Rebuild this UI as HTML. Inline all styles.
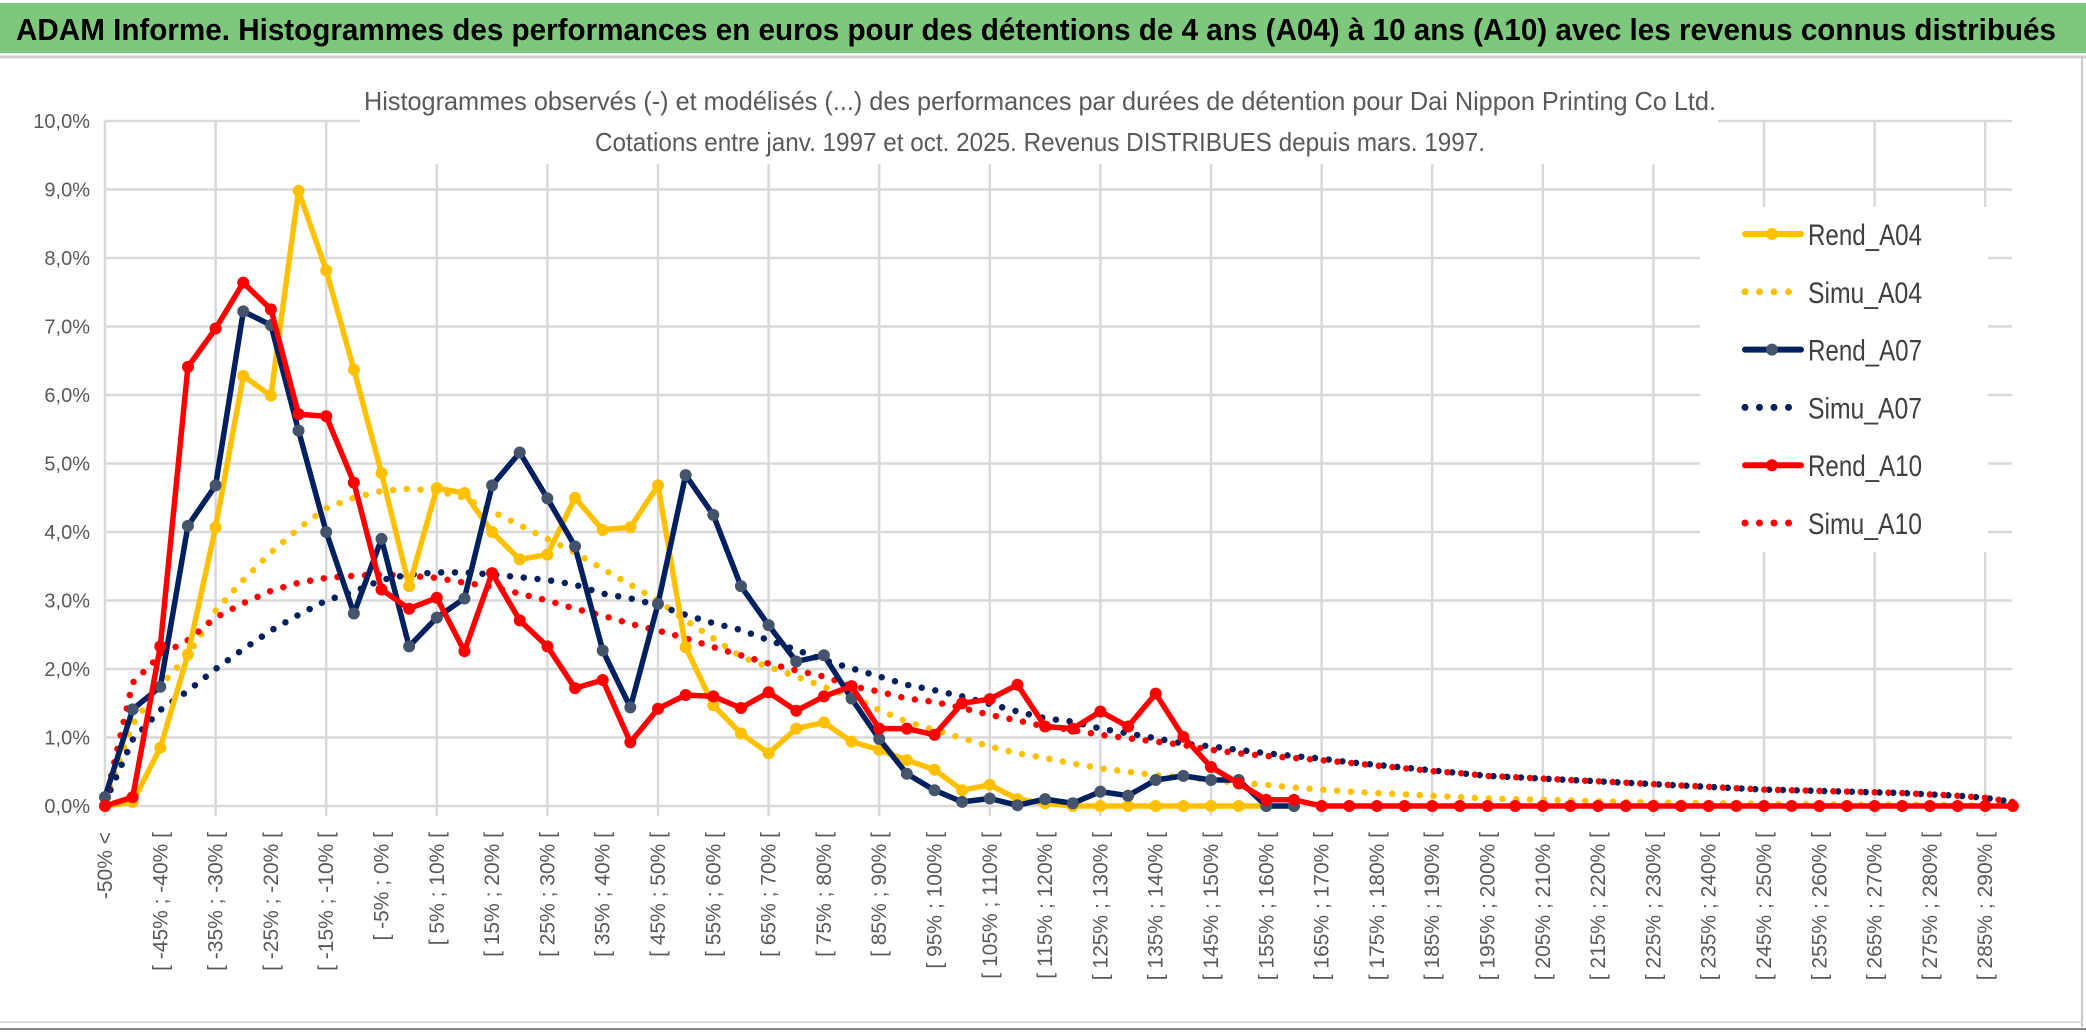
<!DOCTYPE html>
<html><head><meta charset="utf-8"><style>
html,body{margin:0;padding:0;background:#fff;}
svg{display:block;}
</style></head><body>
<svg id="chart" width="2086" height="1033" viewBox="0 0 2086 1033" xmlns="http://www.w3.org/2000/svg" font-family="Liberation Sans, sans-serif">
<rect x="0" y="0" width="2086" height="1033" fill="#fff"/>
<rect x="0" y="3" width="2086" height="50" fill="#7dc87d"/>
<text x="16" y="40" font-size="31" font-weight="bold" fill="#000" textLength="2040" lengthAdjust="spacingAndGlyphs">ADAM Informe. Histogrammes des performances en euros pour des détentions de 4 ans (A04) à 10 ans (A10) avec les revenus connus distribués</text>
<line x1="0" y1="57" x2="2086" y2="57" stroke="#d0d0d0" stroke-width="3"/>
<line x1="2082" y1="57" x2="2082" y2="1027" stroke="#c8c8c8" stroke-width="2"/>
<line x1="0" y1="1022" x2="2082" y2="1022" stroke="#dcdcdc" stroke-width="2"/>
<line x1="0" y1="1029" x2="2086" y2="1029" stroke="#888" stroke-width="2"/>
<g id="grid"></g>
<rect x="360" y="62" width="1358" height="102" fill="#fff"/>
<text x="1040" y="110" font-size="26" fill="#595959" text-anchor="middle" textLength="1352" lengthAdjust="spacingAndGlyphs">Histogrammes observés (-) et modélisés (...) des performances par durées de détention pour Dai Nippon Printing Co Ltd.</text>
<text x="1040" y="151" font-size="26" fill="#595959" text-anchor="middle" textLength="890" lengthAdjust="spacingAndGlyphs">Cotations entre janv. 1997 et oct. 2025. Revenus DISTRIBUES depuis mars. 1997.</text>
<g id="ylabels"></g>
<g id="xlabels"></g>
<g id="series"></g>
<g id="legend"></g>
</svg>
<script>
const yTicks = [0,1,2,3,4,5,6,7,8,9,10];
const rendA04 = [0.0,0.06,0.85,2.21,4.07,6.28,5.99,8.98,7.82,6.37,4.86,3.21,4.64,4.57,4.00,3.60,3.67,4.50,4.03,4.07,4.68,2.32,1.47,1.06,0.77,1.13,1.22,0.94,0.82,0.67,0.53,0.23,0.31,0.10,0.04,0,0,0,0,0,0,0,0];
const rendA07 = [0.13,1.41,1.74,4.09,4.68,7.22,7.02,5.48,4.00,2.81,3.90,2.33,2.75,3.03,4.68,5.16,4.49,3.79,2.27,1.44,2.95,4.83,4.25,3.21,2.64,2.11,2.20,1.57,0.98,0.47,0.23,0.06,0.11,0.01,0.10,0.04,0.21,0.15,0.38,0.44,0.38,0.38,0.0,0.0];
const rendA10 = [0.0,0.13,2.33,6.41,6.97,7.64,7.25,5.72,5.69,4.72,3.16,2.88,3.04,2.26,3.40,2.71,2.33,1.72,1.84,0.93,1.42,1.62,1.60,1.43,1.66,1.39,1.60,1.75,1.13,1.13,1.04,1.50,1.56,1.77,1.16,1.13,1.38,1.16,1.64,1.01,0.57,0.33,0.09,0.09,0,0,0,0,0,0,0,0,0,0,0,0,0,0,0,0,0,0,0,0,0,0,0,0,0,0];
const simuA04 = [0.1,1.2,1.75,2.2,2.85,3.3,3.7,4.05,4.35,4.5,4.6,4.63,4.6,4.5,4.3,4.1,3.9,3.7,3.46,3.23,3.0,2.71,2.45,2.18,2.03,1.89,1.74,1.6,1.4,1.23,1.11,0.99,0.87,0.77,0.70,0.62,0.55,0.50,0.45,0.42,0.38,0.34,0.31,0.27,0.24,0.21,0.19,0.17,0.15,0.13,0.11,0.10,0.09,0.08,0.07,0.06,0.05,0.05,0.04,0.04,0.03,0.03,0.03,0.02,0.02,0.02,0.02,0.01,0.01,0.01];
const simuA07 = [0.05,0.97,1.4,1.68,2.0,2.29,2.56,2.79,3.0,3.13,3.3,3.38,3.41,3.41,3.38,3.34,3.3,3.23,3.1,3.03,2.93,2.79,2.67,2.57,2.42,2.28,2.13,2.01,1.89,1.77,1.69,1.6,1.49,1.38,1.28,1.23,1.13,1.06,0.99,0.91,0.87,0.82,0.77,0.73,0.69,0.64,0.60,0.56,0.52,0.48,0.44,0.42,0.40,0.38,0.36,0.34,0.32,0.30,0.28,0.26,0.24,0.23,0.22,0.21,0.20,0.19,0.17,0.15,0.12,0.06];
const simuA10 = [0.05,1.8,2.2,2.42,2.75,2.96,3.14,3.26,3.33,3.36,3.38,3.36,3.33,3.26,3.2,3.1,3.0,2.88,2.78,2.66,2.56,2.45,2.32,2.2,2.08,1.98,1.89,1.75,1.67,1.57,1.52,1.43,1.33,1.25,1.16,1.11,1.04,0.99,0.94,0.89,0.82,0.77,0.73,0.70,0.67,0.63,0.59,0.55,0.51,0.48,0.44,0.42,0.40,0.38,0.36,0.34,0.32,0.30,0.28,0.26,0.24,0.23,0.22,0.21,0.20,0.19,0.17,0.15,0.12,0.06];
const nCats = 70;
const legendNames = ["Rend_A04","Simu_A04","Rend_A07","Simu_A07","Rend_A10","Simu_A10"];

const NS = "http://www.w3.org/2000/svg";
const X0 = 105, DX = 27.65, Y0 = 806, DY = 68.5;
const xs = i => X0 + i * DX;
const ys = v => Y0 - v * DY;
function mk(tag, attrs, parent) {
  const e = document.createElementNS(NS, tag);
  for (const k in attrs) e.setAttribute(k, attrs[k]);
  parent.appendChild(e);
  return e;
}
function catLabel(i) {
  if (i === 0) return "-50% <";
  const a = -55 + 5 * i, b = a + 5;
  return "[ " + a + "% ; " + b + "% [";
}
const grid = document.getElementById('grid');
yTicks.forEach(t => {
  const l = mk('line', {x1: X0, x2: 2012, y1: ys(t), y2: ys(t), stroke: '#d9d9d9', 'stroke-width': 2.5}, grid);
  
  
});
for (let i = 0; i < nCats; i += 4) {
  const l = mk('line', {x1: xs(i), x2: xs(i), y1: ys(10), y2: ys(0) + 10, stroke: '#d9d9d9', 'stroke-width': 2.5}, grid);
  
  
}
const yl = document.getElementById('ylabels');
yTicks.forEach(t => {
  const e = mk('text', {x: 90, y: ys(t) + 7, 'font-size': 20, fill: '#595959', 'text-anchor': 'end'}, yl);
  e.textContent = t.toFixed(1).replace('.', ',') + '%';
  
  
});
const xl = document.getElementById('xlabels');
for (let i = 0; i < nCats; i += 2) {
  const x = xs(i) + 7, y = 832;
  const e = mk('text', {x: x, y: y, 'font-size': 21, fill: '#595959', 'text-anchor': 'end', transform: 'rotate(-90 ' + x + ' ' + y + ')'}, xl);
  e.textContent = catLabel(i);
  
  
}
const sg = document.getElementById('series');
function pts(arr) { return arr.map((v, i) => xs(i).toFixed(1) + ',' + ys(v).toFixed(1)).join(' '); }
function dotted(arr, color, name) {
  const p = mk('polyline', {points: pts(arr), fill: 'none', stroke: color, 'stroke-width': 6.5, 'stroke-linecap': 'round', 'stroke-dasharray': '0 13.8'}, sg);
  
  
}
function solid(arr, color, mcolor, name) {
  const p = mk('polyline', {points: pts(arr), fill: 'none', stroke: color, 'stroke-width': 5.5, 'stroke-linejoin': 'round'}, sg);
  
  
  arr.forEach((v, i) => {
    const c = mk('circle', {cx: xs(i), cy: ys(v), r: 6, fill: mcolor}, sg);
    
    
  });
}
dotted(simuA04, '#ffc000', 'simu-a04-line');
dotted(simuA07, '#002060', 'simu-a07-line');
dotted(simuA10, '#ff0000', 'simu-a10-line');
solid(rendA04, '#ffc000', '#ffc000', 'rend-a04-line');
solid(rendA07, '#002060', '#44546a', 'rend-a07-line');
solid(rendA10, '#ff0000', '#ff0000', 'rend-a10-line');

const lg = document.getElementById('legend');
const bg = mk('rect', {x: 1700, y: 207, width: 288, height: 345, fill: '#fff'}, lg);


const lcol = ['#ffc000','#ffc000','#002060','#002060','#ff0000','#ff0000'];
const mcol = ['#ffc000','#ffc000','#44546a','#002060','#ff0000','#ff0000'];
legendNames.forEach((n, j) => {
  const cy = 234 + j * 57.8;
  if (j % 2 === 0) {
    const l = mk('line', {x1: 1745, x2: 1801, y1: cy, y2: cy, stroke: lcol[j], 'stroke-width': 6, 'stroke-linecap': 'round'}, lg);
    
    
    const c = mk('circle', {cx: 1772, cy: cy, r: 6, fill: mcol[j]}, lg);
    
    
  } else {
    const l = mk('line', {x1: 1745, x2: 1796, y1: cy, y2: cy, stroke: lcol[j], 'stroke-width': 7, 'stroke-linecap': 'round', 'stroke-dasharray': '0 14.5'}, lg);
    
    
  }
  const t = mk('text', {x: 1808, y: cy + 11, 'font-size': 30, fill: '#404040', textLength: 114, lengthAdjust: 'spacingAndGlyphs'}, lg);
  t.textContent = n;
  
  
});
</script>
</body></html>
